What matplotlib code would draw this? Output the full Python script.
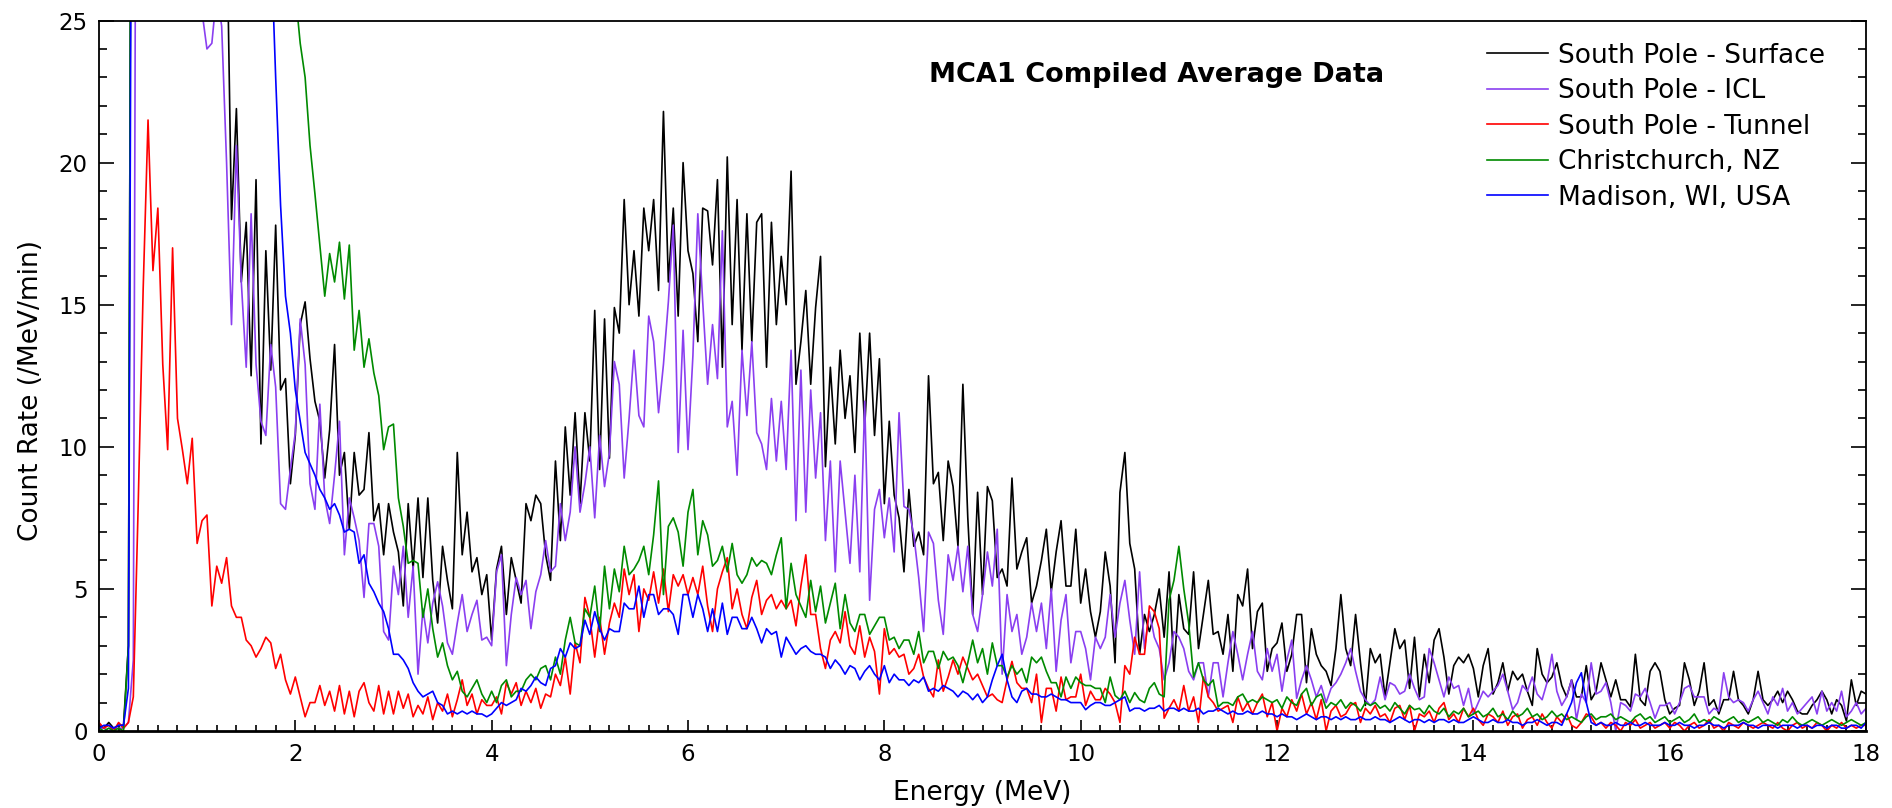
"""MCA1 compiled average spectra: five sites, count rate vs energy."""

import numpy as np
import matplotlib
matplotlib.use("Agg")
import matplotlib.pyplot as plt
from matplotlib.ticker import MultipleLocator

# energy bins (MeV), 0.05 MeV steps from 0 to 18
energy = np.round(np.arange(361) * 0.05, 2)

# count rate (/MeV/min), one row of 20 values per MeV
surface = [
    0.2, 0.1, 0.3, 0.1, 0.2, 0.2, 3.0, 60, 120, 150, 140, 130, 120, 110, 100, 90, 80, 72, 65, 58,
    55, 50, 46, 42, 38, 34, 29, 18.0, 21.9, 15.8, 17.9, 12.5, 19.4, 10.1, 16.9, 12.7, 17.8, 12.0, 12.4, 8.7,
    10.4, 14.3, 15.1, 13.1, 11.6, 10.9, 8.9, 10.6, 13.6, 9.0, 9.8, 7.1, 9.8, 8.3, 8.5, 10.5, 7.4, 8.0, 6.2, 8.0,
    7.0, 6.3, 4.4, 8.0, 5.7, 8.2, 5.4, 8.2, 5.3, 3.8, 6.5, 5.3, 4.3, 9.8, 6.2, 7.7, 5.6, 6.1, 4.8, 5.5,
    3.2, 5.7, 6.5, 4.1, 6.1, 5.3, 4.5, 8.0, 7.4, 8.3, 8.0, 6.2, 5.3, 9.5, 6.7, 10.7, 8.3, 11.2, 8.0, 11.2,
    9.5, 14.8, 9.2, 14.5, 9.6, 14.9, 14.0, 18.7, 15.0, 16.9, 14.6, 18.4, 16.9, 18.7, 15.5, 21.8, 15.8, 18.4, 14.6, 20.0,
    16.9, 16.1, 13.7, 18.4, 18.3, 16.4, 19.4, 12.8, 20.2, 14.3, 18.7, 13.4, 18.2, 13.7, 17.9, 18.2, 12.8, 17.9, 14.3, 16.7,
    15.0, 19.7, 12.2, 13.7, 15.5, 12.2, 14.9, 16.7, 9.3, 12.8, 10.1, 13.4, 11.0, 12.5, 9.8, 14.0, 10.7, 14.0, 10.4, 13.1,
    8.0, 10.9, 8.3, 7.5, 5.6, 8.5, 6.5, 7.0, 6.2, 12.5, 8.7, 9.1, 6.7, 9.5, 8.6, 6.5, 12.2, 7.5, 4.1, 8.4,
    4.8, 8.6, 8.1, 5.4, 5.7, 5.1, 8.9, 5.7, 6.3, 6.8, 4.5, 5.1, 6.0, 7.1, 4.9, 6.3, 7.4, 5.1, 5.1, 7.1,
    4.5, 5.7, 4.2, 3.3, 4.2, 6.3, 5.1, 2.4, 8.4, 9.8, 6.6, 5.7, 2.7, 4.1, 3.5, 4.1, 5.0, 3.3, 5.6, 2.1,
    4.8, 3.6, 3.4, 5.6, 2.9, 4.1, 5.3, 3.4, 3.5, 2.7, 4.1, 2.1, 4.8, 4.4, 5.7, 2.9, 4.2, 4.5, 2.1, 2.9,
    3.1, 3.8, 2.1, 2.7, 4.1, 4.1, 1.7, 3.6, 2.7, 2.3, 2.1, 1.6, 2.9, 4.8, 2.9, 2.3, 4.1, 2.4, 0.9, 2.9,
    2.4, 2.7, 1.2, 2.4, 3.6, 2.9, 3.2, 1.5, 3.3, 1.2, 2.7, 1.7, 3.2, 3.6, 2.6, 1.3, 2.3, 2.6, 2.4, 2.7,
    2.2, 1.2, 2.3, 2.9, 1.3, 1.7, 2.4, 1.4, 2.1, 1.8, 2.0, 1.4, 0.9, 2.9, 2.0, 1.7, 1.9, 2.4, 1.6, 1.2,
    1.8, 1.2, 1.2, 2.3, 1.1, 1.4, 2.4, 1.8, 1.2, 1.8, 1.1, 1.1, 0.85, 2.7, 1.1, 0.9, 2.1, 2.4, 2.1, 1.1,
    0.6, 0.8, 0.9, 2.4, 1.8, 0.9, 1.4, 2.4, 0.9, 1.1, 0.6, 1.1, 1.1, 2.1, 1.1, 0.9, 0.6, 1.1, 2.1, 1.1,
    0.9, 1.1, 1.4, 1.0, 1.4, 1.1, 0.7, 0.6, 0.6, 0.9, 1.1, 1.4, 1.1, 0.6, 1.1, 0.9, 0.35, 1.8, 0.9, 1.4,
    1.3,
]

icl = [
    0.1, 0.1, 0.0, 0.1, 0.1, 0.1, 0.3, 2.5, 60, 120, 150, 140, 125, 110, 95, 80, 68, 56, 46, 38,
    30, 25.3, 24.0, 24.2, 26, 24.8, 20.0, 14.3, 20.6, 15.8, 12.8, 18.2, 12.9, 10.9, 10.4, 13.6, 12.1, 8.0, 7.8, 9.2,
    10.5, 14.5, 12.9, 8.7, 7.8, 11.5, 8.2, 7.3, 9.0, 10.9, 6.2, 8.2, 7.5, 6.7, 4.7, 7.3, 7.3, 6.5, 3.5, 3.2,
    5.8, 4.8, 6.5, 4.0, 5.8, 2.0, 4.3, 3.1, 4.5, 5.25, 4.4, 3.1, 2.7, 3.8, 4.8, 3.5, 4.1, 4.6, 3.2, 3.3,
    3.0, 5.6, 6.2, 2.3, 4.1, 5.4, 4.8, 5.3, 3.6, 4.9, 5.5, 6.7, 5.6, 5.8, 8.0, 6.7, 7.7, 10.0, 7.7, 8.7,
    10.0, 7.5, 10.4, 8.6, 9.8, 13.0, 12.2, 8.9, 11.0, 13.4, 11.1, 10.7, 14.6, 13.7, 11.2, 12.9, 15.1, 17.8, 9.8, 14.1,
    9.9, 13.2, 18.2, 15.1, 12.2, 14.3, 12.4, 17.6, 10.7, 11.6, 9.0, 13.4, 11.1, 13.7, 10.5, 10.1, 9.2, 11.7, 9.5, 11.6,
    9.2, 13.4, 7.4, 12.7, 7.7, 12.0, 8.9, 11.2, 6.7, 9.5, 5.6, 9.5, 7.7, 5.9, 9.0, 5.6, 11.6, 4.6, 7.8, 8.5,
    6.8, 8.2, 6.3, 11.2, 7.9, 7.8, 6.9, 5.4, 3.5, 7.0, 6.6, 4.6, 3.4, 6.2, 5.3, 6.5, 4.9, 6.5, 4.1, 3.5,
    4.8, 6.3, 5.1, 7.1, 2.0, 4.8, 3.5, 4.1, 2.7, 3.3, 4.5, 3.5, 4.5, 2.9, 5.0, 2.1, 3.9, 4.8, 2.4, 3.5,
    3.5, 2.9, 1.8, 3.3, 2.9, 3.3, 4.8, 3.3, 4.5, 5.3, 3.9, 2.7, 5.6, 2.9, 4.2, 3.3, 2.9, 1.8, 2.4, 3.5,
    3.3, 2.9, 2.1, 1.8, 2.4, 2.4, 1.2, 2.4, 2.4, 1.2, 2.4, 3.5, 2.7, 1.8, 2.7, 3.5, 2.1, 1.8, 2.9, 2.1,
    2.7, 1.4, 2.5, 3.2, 1.15, 1.8, 2.3, 1.8, 1.2, 1.6, 1.0, 1.5, 1.7, 2.0, 2.4, 2.9, 2.1, 1.4, 1.1, 0.9,
    1.1, 1.9, 1.1, 1.7, 1.6, 1.3, 1.4, 2.0, 1.5, 1.1, 1.2, 2.9, 2.4, 1.8, 1.2, 1.9, 1.5, 1.6, 0.9, 1.5,
    0.6, 1.0, 1.4, 1.2, 1.4, 1.6, 2.0, 1.4, 0.75, 1.0, 1.6, 1.4, 1.9, 1.3, 1.1, 1.7, 2.7, 1.4, 0.9, 1.2,
    1.8, 0.4, 1.3, 1.0, 2.4, 1.3, 1.4, 1.7, 1.0, 0.0, 1.0, 0.9, 0.7, 1.3, 1.2, 1.5, 1.0, 0.45, 0.9, 0.9,
    1.0, 0.6, 1.0, 1.5, 1.6, 1.2, 1.2, 1.2, 0.6, 0.8, 0.7, 2.05, 1.2, 1.0, 1.1, 1.0, 0.7, 1.1, 1.4, 1.0,
    0.6, 1.2, 0.9, 1.5, 0.7, 1.0, 0.6, 0.8, 1.0, 1.2, 0.6, 1.4, 0.7, 1.0, 0.7, 1.4, 0.5, 0.7, 1.0, 0.6,
    0.8,
]

tunnel = [
    0.3, 0.1, 0.2, 0.0, 0.3, 0.1, 0.3, 1.2, 8.0, 15.5, 21.5, 16.2, 18.4, 12.9, 9.9, 17.0, 11.0, 9.9, 8.7, 10.3,
    6.6, 7.4, 7.6, 4.4, 5.8, 5.2, 6.1, 4.4, 4.0, 4.0, 3.2, 3.0, 2.6, 2.9, 3.3, 3.1, 2.2, 2.7, 1.8, 1.3,
    1.9, 1.2, 0.5, 1.0, 1.0, 1.6, 0.9, 1.4, 0.7, 1.6, 0.6, 1.4, 0.5, 1.4, 1.7, 1.0, 0.7, 1.6, 0.6, 1.4,
    0.6, 1.4, 0.8, 1.3, 0.5, 0.9, 0.6, 1.2, 0.4, 1.0, 0.7, 1.3, 0.5, 1.1, 1.8, 0.9, 1.3, 0.6, 1.1, 0.9,
    0.9, 1.2, 0.6, 1.7, 1.3, 1.7, 0.9, 1.4, 1.0, 1.5, 0.8, 1.3, 1.2, 2.0, 1.6, 2.6, 1.3, 3.1, 2.4, 4.7,
    4.0, 2.6, 4.0, 2.7, 3.8, 4.5, 4.0, 5.7, 4.8, 5.5, 3.5, 5.0, 4.6, 5.6, 4.5, 5.7, 4.2, 5.5, 5.1, 5.5,
    4.8, 5.4, 4.8, 5.8, 4.4, 3.5, 5.0, 5.6, 6.1, 4.3, 5.0, 4.1, 3.6, 4.7, 5.3, 4.1, 4.6, 4.8, 4.3, 4.6,
    4.3, 4.6, 3.7, 5.1, 6.2, 4.1, 4.1, 2.9, 2.2, 3.2, 3.5, 3.1, 4.2, 3.0, 2.7, 3.7, 2.6, 3.3, 2.8, 1.3,
    3.6, 2.7, 2.9, 2.6, 2.7, 2.0, 2.2, 2.7, 1.9, 1.5, 1.2, 2.5, 1.4, 1.9, 2.5, 2.0, 2.6, 2.2, 1.8, 2.0,
    1.6, 1.2, 1.3, 1.1, 1.0, 1.8, 2.45, 1.7, 1.5, 1.5, 1.0, 2.0, 0.3, 1.5, 1.5, 0.7, 1.9, 1.1, 1.2, 1.2,
    2.0, 0.9, 1.4, 1.1, 1.1, 1.5, 1.3, 1.0, 0.3, 2.3, 2.0, 3.3, 2.7, 2.7, 4.4, 4.2, 3.6, 0.45, 0.8, 1.1,
    0.7, 1.6, 0.7, 1.2, 0.3, 1.9, 1.2, 1.0, 0.7, 0.8, 0.9, 0.3, 1.2, 0.7, 1.0, 0.6, 1.0, 1.3, 0.5, 1.0,
    0.0, 0.8, 0.5, 1.1, 0.7, 1.3, 0.6, 1.0, 0.4, 1.1, 0.0, 0.7, 0.9, 0.5, 0.6, 0.9, 1.0, 0.3, 0.8, 0.6,
    0.9, 0.5, 0.6, 0.3, 0.8, 0.9, 0.4, 0.9, 0.0, 0.6, 0.5, 0.7, 0.3, 0.8, 1.0, 0.4, 0.6, 0.3, 0.8, 0.5,
    0.8, 0.4, 0.2, 0.6, 0.5, 0.3, 0.7, 0.2, 0.5, 0.6, 0.1, 0.4, 0.5, 0.2, 0.6, 0.3, 0.1, 0.5, 0.3, 0.6,
    0.2, 0.1, 0.3, 0.6, 0.5, 0.2, 0.3, 0.1, 0.3, 0.2, 0.0, 0.3, 0.2, 0.4, 0.1, 0.2, 0.3, 0.1, 0.2, 0.3,
    0.1, 0.3, 0.2, 0.0, 0.2, 0.3, 0.1, 0.2, 0.4, 0.1, 0.2, 0.0, 0.3, 0.2, 0.1, 0.3, 0.2, 0.1, 0.2, 0.3,
    0.2, 0.1, 0.3, 0.1, 0.0, 0.2, 0.3, 0.1, 0.2, 0.1, 0.3, 0.2, 0.0, 0.2, 0.1, 0.3, 0.1, 0.2, 0.1, 0.2,
    0.2,
]

christchurch = [
    0.1, 0.0, 0.1, 0.0, 0.1, 0.0, 3.0, 60, 120, 160, 170, 165, 155, 145, 135, 125, 115, 105, 97, 90,
    84, 78, 72, 67, 62, 58, 54, 50, 47, 44, 41, 39, 37, 35, 33, 31, 30, 29, 28, 27,
    26, 24.2, 23.0, 20.6, 18.9, 17.1, 15.3, 16.8, 15.8, 17.2, 15.2, 17.1, 13.4, 14.8, 12.8, 13.8, 12.6, 11.8, 9.9, 10.7,
    10.8, 8.2, 7.2, 5.9, 6.0, 5.9, 4.0, 5.0, 3.6, 2.6, 3.1, 2.3, 1.8, 2.1, 1.4, 1.2, 1.5, 1.8, 1.3, 1.0,
    1.4, 1.0, 1.6, 1.8, 1.2, 1.4, 1.4, 1.8, 2.0, 1.8, 2.2, 2.3, 1.8, 2.6, 2.0, 3.2, 4.0, 3.1, 3.0, 4.3,
    4.0, 5.1, 3.5, 5.8, 4.3, 5.7, 4.9, 6.5, 5.5, 5.7, 6.0, 6.5, 5.5, 6.9, 8.8, 4.8, 7.2, 7.5, 7.0, 5.8,
    7.7, 8.5, 6.2, 7.4, 6.9, 5.8, 6.0, 6.5, 5.6, 6.6, 5.5, 5.2, 5.5, 6.1, 5.8, 6.0, 5.9, 5.5, 6.2, 6.8,
    4.3, 5.9, 4.8, 4.4, 4.0, 5.3, 4.2, 5.1, 3.8, 4.5, 5.2, 3.6, 4.8, 3.8, 3.5, 4.1, 4.1, 3.4, 3.7, 4.0,
    4.0, 3.2, 3.3, 2.9, 3.2, 3.2, 2.7, 3.5, 2.4, 2.8, 2.8, 2.2, 2.8, 2.5, 2.6, 2.3, 1.7, 2.4, 3.2, 2.4,
    2.9, 2.0, 3.1, 2.3, 2.3, 1.9, 2.3, 2.0, 2.2, 1.7, 2.6, 2.4, 2.6, 2.1, 1.7, 1.7, 1.2, 1.9, 1.5, 1.9,
    1.7, 1.6, 1.6, 1.5, 1.5, 1.0, 1.9, 1.25, 1.1, 1.4, 1.0, 1.35, 1.1, 1.0, 1.5, 1.7, 1.3, 1.2, 4.6, 5.3,
    6.5, 5.0, 3.8, 1.9, 2.4, 1.8, 1.6, 1.8, 0.85, 1.0, 1.0, 0.9, 1.2, 1.3, 1.0, 1.1, 1.0, 1.2, 1.1, 1.0,
    1.1, 0.8, 1.2, 1.0, 0.9, 1.3, 1.5, 0.9, 1.2, 1.3, 0.8, 1.0, 0.9, 1.1, 0.8, 1.0, 0.9, 0.7, 1.0, 0.9,
    1.0, 0.8, 0.9, 0.7, 1.0, 0.8, 0.6, 0.9, 0.75, 0.8, 0.6, 0.9, 0.7, 0.6, 0.8, 0.5, 0.7, 0.6, 0.8, 0.5,
    0.6, 0.7, 0.5, 0.6, 0.8, 0.5, 0.6, 0.4, 0.7, 0.5, 0.6, 0.8, 0.5, 0.6, 0.4, 0.5, 0.7, 0.5, 0.6, 0.4,
    0.5, 0.4, 0.3, 0.5, 0.6, 0.4, 0.5, 0.5, 0.6, 0.4, 0.5, 0.4, 0.3, 0.5, 0.6, 0.4, 0.5, 0.3, 0.4, 0.5,
    0.3, 0.4, 0.5, 0.3, 0.4, 0.6, 0.3, 0.4, 0.3, 0.5, 0.4, 0.3, 0.4, 0.5, 0.3, 0.4, 0.3, 0.4, 0.5, 0.3,
    0.4, 0.3, 0.2, 0.4, 0.3, 0.5, 0.3, 0.2, 0.3, 0.4, 0.3, 0.2, 0.3, 0.4, 0.3, 0.2, 0.3, 0.4, 0.3, 0.2,
    0.3,
]

madison = [
    0.1, 0.2, 0.2, 0.1, 0.2, 0.2, 1.5, 50, 130, 170, 180, 175, 165, 155, 145, 135, 125, 115, 107, 99,
    92, 85, 79, 73, 68, 63, 58, 54, 50, 46, 43, 40, 37, 34, 31, 28, 23.0, 18.5, 15.3, 14.0,
    12.0, 10.9, 9.8, 9.4, 9.0, 8.5, 8.2, 7.8, 8.0, 7.6, 7.0, 7.1, 7.0, 5.9, 6.2, 5.2, 4.9, 4.5, 4.2, 3.6,
    2.7, 2.7, 2.5, 2.2, 1.7, 1.4, 1.2, 1.3, 1.4, 1.0, 0.9, 0.6, 0.7, 0.6, 0.7, 0.6, 0.7, 0.6, 0.6, 0.5,
    0.6, 0.8, 1.0, 0.9, 1.0, 1.1, 1.5, 1.4, 1.6, 1.9, 1.7, 1.6, 2.2, 2.3, 2.9, 2.6, 3.1, 2.9, 3.0, 3.9,
    3.4, 4.2, 3.6, 3.2, 3.6, 3.5, 3.5, 4.5, 4.3, 4.3, 5.1, 4.0, 4.8, 4.8, 4.1, 4.3, 4.3, 4.1, 3.4, 4.8,
    4.8, 4.0, 4.8, 4.3, 3.5, 4.3, 3.5, 4.5, 3.4, 4.0, 4.0, 3.6, 3.6, 4.0, 3.6, 3.1, 3.6, 3.4, 3.5, 2.6,
    3.3, 3.0, 2.7, 2.9, 3.0, 2.8, 2.7, 2.7, 2.6, 2.2, 2.5, 2.3, 2.0, 2.3, 2.2, 1.8, 2.1, 2.3, 2.0, 1.8,
    2.3, 1.7, 2.0, 1.8, 1.8, 1.6, 1.8, 1.7, 1.9, 1.4, 1.5, 1.4, 1.6, 1.5, 1.4, 1.2, 1.4, 1.3, 1.1, 1.3,
    1.0, 1.2, 1.8, 2.3, 2.7, 1.8, 1.2, 1.0, 1.4, 1.5, 1.3, 1.3, 1.2, 1.2, 1.3, 1.2, 1.1, 1.1, 1.0, 1.0,
    1.0, 0.75, 0.9, 1.0, 1.0, 0.9, 0.9, 1.0, 1.1, 1.2, 0.7, 0.8, 0.8, 0.7, 0.8, 0.8, 0.9, 0.7, 0.8, 0.8,
    0.7, 0.8, 0.7, 0.7, 0.8, 0.6, 0.7, 0.7, 0.8, 0.7, 0.6, 0.7, 0.6, 0.6, 0.7, 0.6, 0.6, 0.7, 0.6, 0.6,
    0.5, 0.6, 0.5, 0.5, 0.4, 0.5, 0.6, 0.5, 0.4, 0.5, 0.5, 0.4, 0.5, 0.4, 0.5, 0.4, 0.4, 0.5, 0.4, 0.4,
    0.5, 0.4, 0.4, 0.3, 0.4, 0.5, 0.4, 0.3, 0.4, 0.4, 0.3, 0.4, 0.3, 0.4, 0.4, 0.3, 0.4, 0.3, 0.3, 0.4,
    0.5, 0.4, 0.3, 0.3, 0.4, 0.3, 0.3, 0.4, 0.3, 0.3, 0.2, 0.3, 0.3, 0.4, 0.3, 0.2, 0.3, 0.3, 0.2, 0.6,
    1.0, 1.7, 2.05, 1.0, 0.3, 0.2, 0.3, 0.2, 0.2, 0.3, 0.2, 0.2, 0.3, 0.2, 0.2, 0.3, 0.2, 0.2, 0.2, 0.3,
    0.2, 0.2, 0.3, 0.2, 0.2, 0.1, 0.2, 0.2, 0.3, 0.2, 0.2, 0.1, 0.2, 0.2, 0.2, 0.3, 0.2, 0.2, 0.1, 0.2,
    0.2, 0.2, 0.1, 0.2, 0.2, 0.2, 0.1, 0.2, 0.2, 0.1, 0.2, 0.2, 0.1, 0.2, 0.2, 0.1, 0.1, 0.2, 0.2, 0.1,
    0.3,
]

labels = ["South Pole - Surface", "South Pole - ICL", "South Pole - Tunnel",
          "Christchurch, NZ", "Madison, WI, USA"]
colors = ["#000000", "#8a3ff0", "#ff0000", "#008a00", "#0000ff"]


def main():
    fig = plt.figure(figsize=(18.92, 8.08), dpi=100)
    ax = fig.add_axes([0.0523, 0.0953, 0.9340, 0.8793])

    for series, label, color in zip([surface, icl, tunnel, christchurch, madison], labels, colors):
        ax.plot(energy, series, color=color, linewidth=1.2, label=label)

    ax.set_xlim(0, 18)
    ax.set_ylim(0, 25)
    ax.xaxis.set_major_locator(MultipleLocator(2))
    ax.xaxis.set_minor_locator(MultipleLocator(0.2))
    ax.yaxis.set_major_locator(MultipleLocator(5))
    ax.yaxis.set_minor_locator(MultipleLocator(1))
    ax.tick_params(which="both", direction="in", left=True, right=True, top=False,
                   labelsize=16.5, width=1.2)
    ax.tick_params(axis="y", which="major", length=11, pad=8)
    ax.tick_params(axis="y", which="minor", length=6)
    ax.tick_params(axis="x", which="major", length=8, pad=9)
    ax.tick_params(axis="x", which="minor", length=4)
    for side in ["left", "right", "top"]:
        ax.spines[side].set_linewidth(1.3)
    ax.spines["bottom"].set_linewidth(2.0)

    ax.set_xlabel("Energy (MeV)", fontsize=19, labelpad=10)
    ax.set_ylabel("Count Rate (/MeV/min)", fontsize=19)
    ax.yaxis.set_label_coords(-0.031, 0.479)

    ax.text(10.77, 23.1, "MCA1 Compiled Average Data", fontsize=19.5, fontweight="bold",
            ha="center", va="center")

    ax.legend(loc="upper left", bbox_to_anchor=(0.7855, 0.969), frameon=False,
              fontsize=19, handlelength=2.3, handletextpad=0.38, labelspacing=0.36,
              borderpad=0, borderaxespad=0)

    fig.savefig("out.png", dpi=100)
    plt.close(fig)


if __name__ == "__main__":
    main()
